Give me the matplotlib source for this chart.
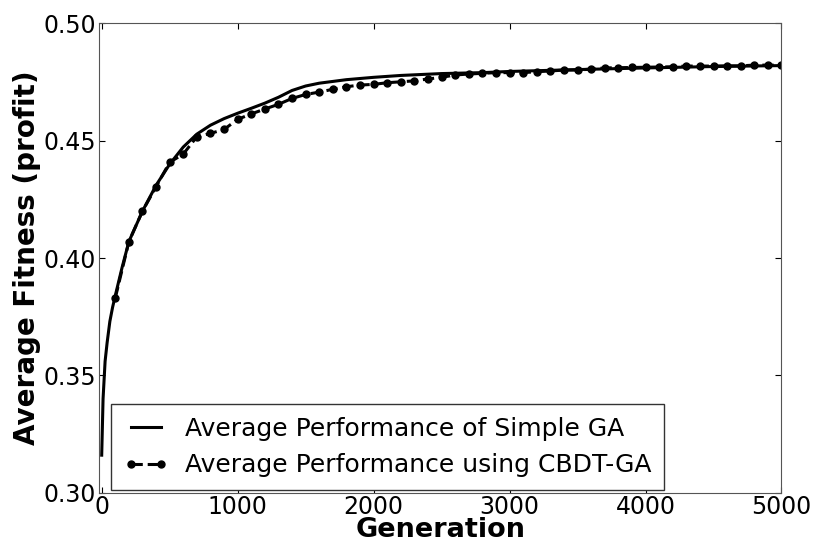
import matplotlib
matplotlib.use("Agg")
import matplotlib.pyplot as plt

# Simple GA average fitness (solid line)
simple_gen = [0, 5, 10, 25, 40, 60, 80, 100, 150, 200, 300, 400, 500, 600,
              700, 800, 900, 1000, 1100, 1200, 1300, 1400, 1500, 1600, 1800,
              2000, 2200, 2500, 2800, 3000, 3500, 4000, 4500, 5000]
simple_fit = [0.316, 0.328, 0.340, 0.356, 0.364, 0.373, 0.379, 0.384, 0.396,
              0.407, 0.420, 0.431, 0.440, 0.4473, 0.4528, 0.4566, 0.4594,
              0.4617, 0.4638, 0.4660, 0.4685, 0.4714, 0.4733, 0.4745, 0.4760,
              0.4770, 0.4778, 0.4786, 0.4790, 0.4795, 0.4803, 0.4810, 0.4816,
              0.4820]

# CBDT-GA average fitness (dashed line with dots every 100 generations)
cbdt_gen = list(range(100, 5001, 100))
cbdt_fit = [0.383, 0.407, 0.420, 0.4304, 0.4408, 0.4443, 0.4517, 0.4531,
            0.4548, 0.4591, 0.4614, 0.4635, 0.4655, 0.4680, 0.4697, 0.4707,
            0.4719, 0.4730, 0.4737, 0.4740, 0.4747, 0.4751, 0.4755, 0.4763,
            0.4770, 0.4780, 0.4784, 0.4787, 0.4790, 0.4790, 0.4790, 0.4794,
            0.4797, 0.4801, 0.4801, 0.4805, 0.4810, 0.4811, 0.4812, 0.4813,
            0.4814, 0.4815, 0.4818, 0.4818, 0.4818, 0.4819, 0.4819, 0.4822,
            0.4822, 0.4822]

x_ticks = [0, 1000, 2000, 3000, 4000, 5000]
y_ticks = [0.30, 0.35, 0.40, 0.45, 0.50]


def main():
    fig = plt.figure(figsize=(8.16, 5.43), dpi=100)
    ax = fig.add_axes([0.1213, 0.0926, 0.8364, 0.8644])

    ax.plot(simple_gen, simple_fit, "k-", linewidth=2.2,
            label="Average Performance of Simple GA")
    ax.plot(cbdt_gen, cbdt_fit, "k--", linewidth=2.2, marker="o",
            markersize=5, label="Average Performance using CBDT-GA")

    ax.set_xlim(-20, 5000)
    ax.set_ylim(0.30, 0.50)
    ax.set_xticks(x_ticks)
    ax.set_yticks(y_ticks)
    ax.set_yticklabels([f"{v:.2f}" for v in y_ticks])
    ax.tick_params(direction="in", top=True, right=True, length=4,
                   labelsize=17, pad=2)
    for sp in ax.spines.values():
        sp.set_color("#555555")

    ax.set_xlabel("Generation", fontsize=19.5, fontweight="bold", labelpad=-2)
    ax.set_ylabel("Average Fitness (profit)", fontsize=20, fontweight="bold",
                  labelpad=2)

    leg = ax.legend(loc="lower left", bbox_to_anchor=(0.0176, 0.006),
                    borderaxespad=0, fontsize=18, numpoints=2,
                    fancybox=False, framealpha=1, handlelength=1.8,
                    labelspacing=0.5, borderpad=0.5, handletextpad=0.65)
    leg.get_frame().set_edgecolor("#333333")

    fig.savefig("out.png", dpi=100)


if __name__ == "__main__":
    main()
